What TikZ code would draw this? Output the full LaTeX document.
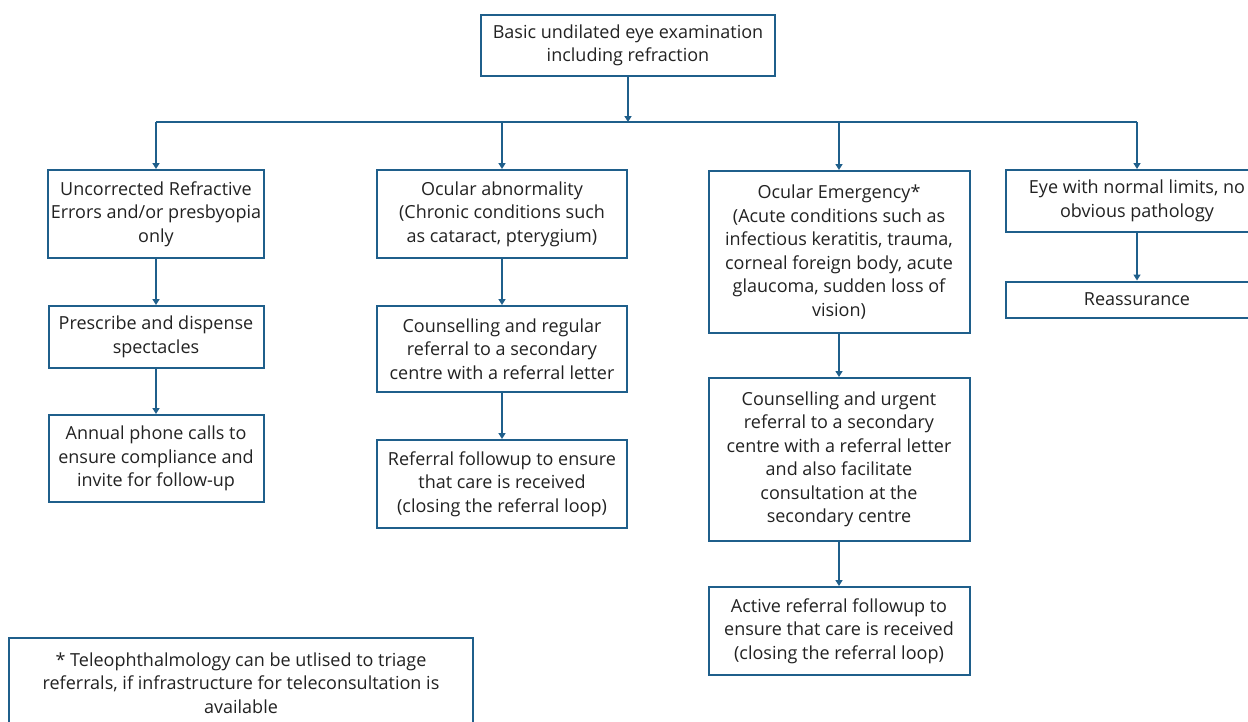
\documentclass[tikz,border=0pt]{standalone}
\usepackage{fontspec}
\setmainfont{Open Sans}
\usetikzlibrary{arrows.meta}
\definecolor{flowblue}{HTML}{1F5F8B}
\definecolor{ink}{HTML}{222222}
\tikzset{
    box/.style 2 args={draw=flowblue,line width=2pt,align=center,inner sep=0pt,text=ink,
        font=\fontsize{18}{23.5}\selectfont,minimum width=#1pt,minimum height=#2pt},
    arr/.style={draw=flowblue,line width=2pt,-{Triangle[length=6pt,width=7pt]}},
    line/.style={draw=flowblue,line width=2pt}
}
\begin{document}
\begin{tikzpicture}[x=1pt,y=-1pt]
        \useasboundingbox(0,0)rectangle(1248,721);
        \fill[white](0,0)rectangle(1248,721);
        \node[box={294}{61}](top)at(628,45.5){Basic undilated eye examination\\including refraction};
        \coordinate(bus)at(628,122);
        \node[box={216}{88}](a1)at(156,214){Uncorrected Refractive\\Errors and/or presbyopia\\only};
        \node[box={215}{62}](a2)at(156,337){Prescribe and dispense\\spectacles};
        \node[box={215}{87}](a3)at(156,458.5){Annual phone calls to\\ensure compliance and\\invite for follow-up};
        \node[box={250}{88}](b1)at(502,214){Ocular abnormality\\(Chronic conditions such\\as cataract, pterygium)};
        \node[box={250}{86}](b2)at(502,349){Counselling and regular\\referral to a secondary\\centre with a referral letter};
        \node[box={250}{88}](b3)at(502,484){Referral followup to ensure\\that care is received\\(closing the referral loop)};
        \node[box={261}{162}](c1)at(839,252){Ocular Emergency*\\(Acute conditions such as\\infectious keratitis, trauma,\\corneal foreign body, acute\\glaucoma, sudden loss of\\vision)};
        \node[box={261}{163}](c2)at(839,459.5){Counselling and urgent\\referral to a secondary\\centre with a referral letter\\and also facilitate\\consultation at the\\secondary centre};
        \node[box={261}{88}](c3)at(839,631){Active referral followup to\\ensure that care is received\\(closing the referral loop)};
        \node[box={262}{62}](d1)at(1137,201){Eye with normal limits, no\\obvious pathology};
        \node[box={262}{36}](d2)at(1137,299.5){Reassurance};
        \node[box={464}{90}](note)at(241,683){* Teleophthalmology can be utlised to triage\\referrals, if infrastructure for teleconsultation is\\available};
        \draw[arr](top)--(bus);
        \draw[line](a1.north|-bus)--(d1.north|-bus);
        \foreach \n in {a1,b1,c1,d1}
            \draw[arr](\n.north|-bus)--(\n.north);
        \draw[arr](a1)--(a2);
        \draw[arr](a2)--(a3);
        \draw[arr](b1)--(b2);
        \draw[arr](b2)--(b3);
        \draw[arr](c1)--(c2);
        \draw[arr](c2)--(c3);
        \draw[arr](d1)--(d2);
    \end{tikzpicture}
\end{document}
